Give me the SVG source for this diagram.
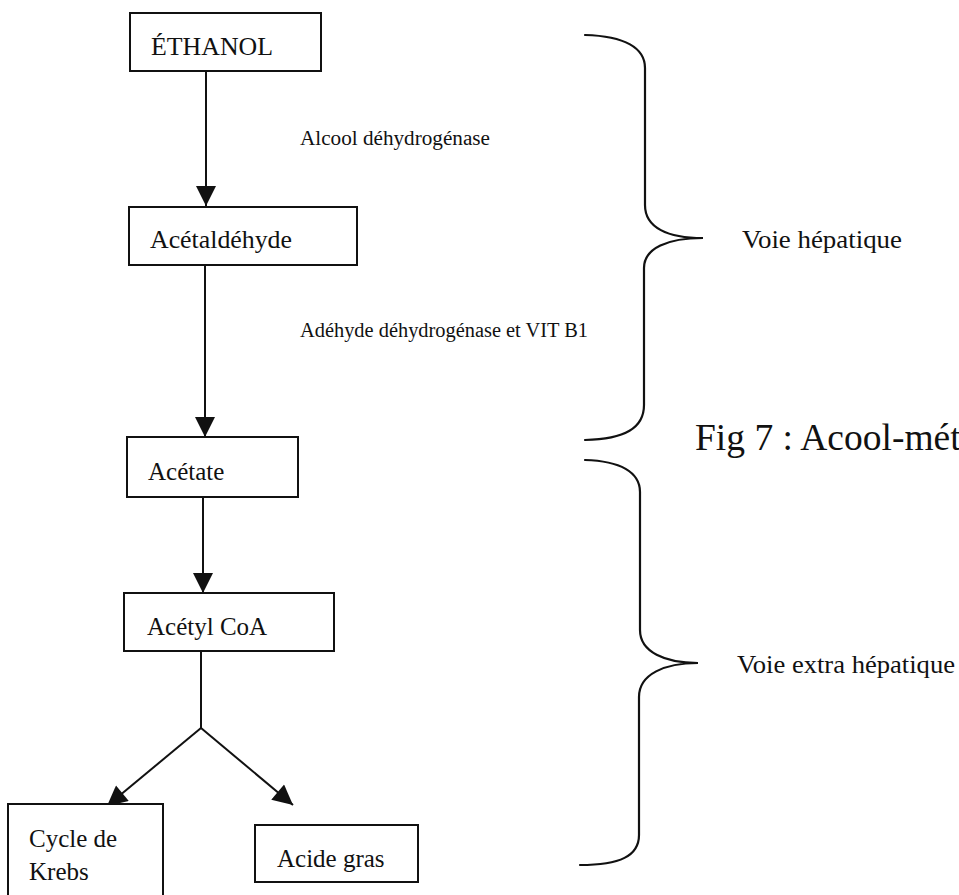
<svg xmlns="http://www.w3.org/2000/svg" width="959" height="895" viewBox="0 0 959 895">
<style>
  .box { fill: #ffffff; stroke: #111111; stroke-width: 2; }
  .lbl { font-family: "Liberation Serif", "Times New Roman", serif; font-size: 25px; fill: #111111; }
  .enz { font-family: "Liberation Serif", "Times New Roman", serif; font-size: 20px; fill: #111111; }
  .edge { fill: none; stroke: #111111; stroke-width: 2; }
  .brace { fill: none; stroke: #111111; stroke-width: 2.2; stroke-linecap: round; }
  .title { font-family: "Liberation Serif", "Times New Roman", serif; font-size: 37.5px; fill: #111111; }
</style>
<defs>
  <marker id="arrow" viewBox="0 0 20 20" refX="20" refY="10" markerWidth="21" markerHeight="20" markerUnits="userSpaceOnUse" orient="auto">
    <path d="M0,0 L20,10 L0,20 z" fill="#111111"/>
  </marker>
</defs>
<rect width="959" height="895" fill="#ffffff"/>

<g id="connectors">
  <line class="edge" x1="206" y1="71" x2="206" y2="206" marker-end="url(#arrow)"/>
  <line class="edge" x1="205" y1="265" x2="205" y2="437" marker-end="url(#arrow)"/>
  <line class="edge" x1="203" y1="497" x2="203" y2="593" marker-end="url(#arrow)"/>
  <line class="edge" x1="201" y1="651" x2="201" y2="728"/>
  <line class="edge" x1="201" y1="728" x2="107" y2="806" marker-end="url(#arrow)"/>
  <line class="edge" x1="201" y1="728" x2="293" y2="805" marker-end="url(#arrow)"/>
</g>

<g id="ethanol">
  <rect class="box" x="130" y="13" width="191" height="58"/>
  <text class="lbl" x="151" y="55" textLength="122" lengthAdjust="spacingAndGlyphs">ÉTHANOL</text>
</g>
<g id="acetaldehyde">
  <rect class="box" x="129" y="207" width="228" height="58"/>
  <text class="lbl" x="150" y="248" textLength="142" lengthAdjust="spacingAndGlyphs">Acétaldéhyde</text>
</g>
<g id="acetate">
  <rect class="box" x="127" y="437" width="171" height="60"/>
  <text class="lbl" x="148" y="480">Acétate</text>
</g>
<g id="acetylcoa">
  <rect class="box" x="124" y="593" width="210" height="58"/>
  <text class="lbl" x="147" y="635">Acétyl CoA</text>
</g>
<g id="krebs">
  <rect class="box" x="8" y="804" width="155" height="100"/>
  <text class="lbl" x="29" y="847">Cycle de</text>
  <text class="lbl" x="29" y="880">Krebs</text>
</g>
<g id="acidegras">
  <rect class="box" x="255" y="825" width="163" height="57"/>
  <text class="lbl" x="277" y="867">Acide gras</text>
</g>

<g id="enzyme-labels">
  <text class="enz" x="300" y="145" textLength="190" lengthAdjust="spacingAndGlyphs">Alcool déhydrogénase</text>
  <text class="enz" x="300" y="337" textLength="288" lengthAdjust="spacingAndGlyphs">Adéhyde déhydrogénase et VIT B1</text>
</g>

<g id="brace-hepatique">
  <path class="brace" d="M585,35 C625,36 645,48 645,68 L645,205 C645,228 668,238 703,238 C668,238 644,248 644,268 L644,405 C644,428 625,439 585,440"/>
  <text class="lbl" x="742" y="248" textLength="160" lengthAdjust="spacingAndGlyphs">Voie hépatique</text>
</g>
<g id="brace-extra">
  <path class="brace" d="M585,460 C620,461 640,472 640,492 L640,630 C640,652 665,663 698,663 C665,663 639,674 639,697 L639,835 C639,856 620,865 580,865"/>
  <text class="lbl" x="737" y="673" textLength="218" lengthAdjust="spacingAndGlyphs">Voie extra hépatique</text>
</g>

<text class="title" x="695" y="450">Fig 7 : Acool-mét</text>
</svg>
